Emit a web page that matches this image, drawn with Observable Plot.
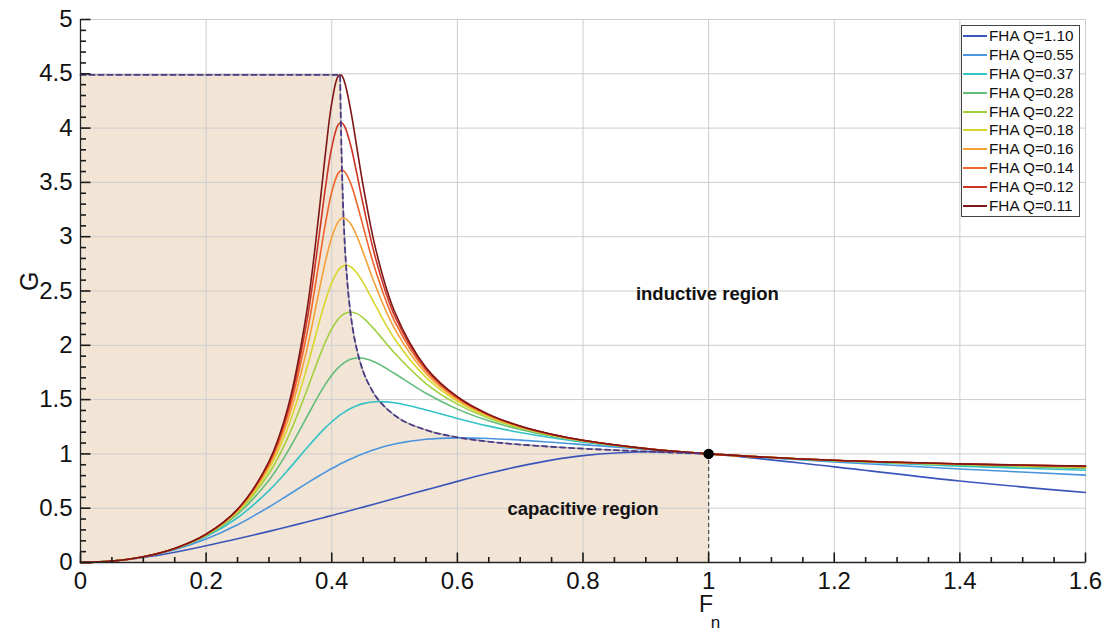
<!DOCTYPE html>
<html><head><meta charset="utf-8">
<script src="https://cdn.jsdelivr.net/npm/d3@7"></script>
<script src="https://cdn.jsdelivr.net/npm/@observablehq/plot@0.6"></script>
<style>
body{margin:0;background:#fff;}
#wrap{position:relative;width:1108px;height:634px;font-family:"Liberation Sans",Arial,sans-serif;}
#legend{position:absolute;left:961px;top:25px;width:119px;height:192px;border:1px solid #444;background:#fff;box-sizing:border-box;padding-top:1px}
.row{height:18.8px;display:flex;align-items:center;font-size:15.3px;white-space:nowrap;color:#111}
.sw{width:24px;height:0;border-top:2px solid;margin:0 2px 0 1px}
</style></head><body><div id="wrap"></div>
<script>
// Normalized frequency samples (Fn)
const fn = [0, 0.05, 0.1, 0.15, 0.2, 0.25, 0.3, 0.33, 0.36, 0.38, 0.39, 0.40, 0.41, 0.415, 0.42, 0.43, 0.44, 0.45, 0.47, 0.5, 0.55, 0.6, 0.65, 0.7, 0.75, 0.8, 0.9, 1.0, 1.2, 1.4, 1.6];
const qLabels = ["FHA Q=1.10","FHA Q=0.55","FHA Q=0.37","FHA Q=0.28","FHA Q=0.22","FHA Q=0.18","FHA Q=0.16","FHA Q=0.14","FHA Q=0.12","FHA Q=0.11"];
const colors = ["#3b55bb","#4a95dd","#34c2c6","#62bd7a","#a2cf3e","#d8d62a","#f6a038","#f0652b","#cc3526","#7e1616"];
const gQ110 = [0,0.0122,0.0460,0.0951,0.1537,0.2181,0.2866,0.3292,0.3729,0.4026,0.4177,0.4328,0.4480,0.4557,0.4634,0.4788,0.4943,0.5100,0.5414,0.5890,0.6687,0.7470,0.8211,0.8876,0.9429,0.9840,1.0194,1,0.8809,0.7507,0.6443];
const gQ055 = [0,0.0126,0.0511,0.1179,0.2161,0.3481,0.5111,0.6189,0.7281,0.7986,0.8325,0.8650,0.8961,0.9110,0.9254,0.9531,0.9787,1.0024,1.0437,1.0907,1.1346,1.1475,1.1420,1.1268,1.1070,1.0853,1.0415,1,0.9258,0.8614,0.8042];
const gQ037 = [0,0.0126,0.0522,0.1242,0.2388,0.4120,0.6620,0.8496,1.0519,1.1819,1.2416,1.2960,1.3440,1.3654,1.3849,1.4183,1.4442,1.4628,1.4805,1.4704,1.4050,1.3265,1.2558,1.1966,1.1480,1.1078,1.0458,1,0.9349,0.8878,0.8493];
const gQ028 = [0,0.0127,0.0526,0.1267,0.2486,0.4444,0.7579,1.0225,1.3364,1.5475,1.6425,1.7251,1.7919,1.8185,1.8406,1.8707,1.8835,1.8811,1.8424,1.7404,1.5580,1.4123,1.3044,1.2243,1.1634,1.1160,1.0473,1,0.9382,0.8976,0.8669];
const gQ022 = [0,0.0127,0.0528,0.1279,0.2536,0.4622,0.8192,1.1486,1.5798,1.8911,2.0329,2.1520,2.2396,2.2700,2.2912,2.3069,2.2915,2.2525,2.1330,1.9284,1.6480,1.4581,1.3290,1.2378,1.1708,1.1198,1.0480,1,0.9397,0.9023,0.8755];
const gQ018 = [0,0.0127,0.0529,0.1285,0.2564,0.4728,0.8593,1.2401,1.7838,2.2109,2.4105,2.5760,2.6873,2.7194,2.7356,2.7240,2.6653,2.5765,2.3625,2.0601,1.7040,1.4849,1.3429,1.2453,1.1748,1.1219,1.0484,1,0.9405,0.9049,0.8803];
const gQ016 = [0,0.0127,0.0530,0.1289,0.2581,0.4796,0.8866,1.3072,1.9531,2.5044,2.7746,2.9960,3.1347,3.1662,3.1728,3.1199,3.0041,2.8554,2.5428,2.1539,1.7406,1.5018,1.3515,1.2499,1.1773,1.1232,1.0486,1,0.9410,0.9064,0.8832];
const gQ014 = [0,0.0127,0.0531,0.1292,0.2593,0.4842,0.9058,1.3571,2.0929,2.7731,3.1220,3.4120,3.5817,3.6103,3.6018,3.4936,3.3083,3.0939,2.6846,2.2220,1.7657,1.5130,1.3572,1.2529,1.1789,1.1240,1.0487,1,0.9413,0.9074,0.8851];
const gQ012 = [0,0.0127,0.0531,0.1294,0.2601,0.4874,0.9197,1.3948,2.2080,3.0166,3.4544,3.8235,4.0288,4.0512,4.0219,3.8438,3.5795,3.2967,2.7967,2.2727,1.7835,1.5209,1.3611,1.2550,1.1800,1.1246,1.0488,1,0.9416,0.9081,0.8864];
const gQ011 = [0,0.0127,0.0531,0.1295,0.2607,0.4897,0.9300,1.4238,2.3032,3.2362,3.7690,4.2296,4.4757,4.4883,4.4319,4.1710,3.8205,3.4692,2.8861,2.3111,1.7966,1.5266,1.3639,1.2565,1.1808,1.1250,1.0489,1,0.9417,0.9086,0.8873];
// Capacitive / inductive boundary (peak-gain locus, capped at max gain)
const boundaryFn = [0, 0.4133, 0.4135, 0.414, 0.415, 0.417, 0.42, 0.425, 0.43, 0.435, 0.44, 0.45, 0.46, 0.47, 0.48, 0.5, 0.55, 0.6, 0.65, 0.7, 0.8, 0.9, 0.95, 1];
const boundaryG  = [4.49, 4.49, 4.43, 4.235, 3.92, 3.47, 3.02, 2.57, 2.29, 2.10, 1.96, 1.76, 1.63, 1.53, 1.46, 1.356, 1.22, 1.153, 1.113, 1.086, 1.049, 1.022, 1.010, 1];
const resFn = [1], resG = [1];
const xTicks = [0, 0.2, 0.4, 0.6, 0.8, 1, 1.2, 1.4, 1.6];
const yTicks = [0, 0.5, 1, 1.5, 2, 2.5, 3, 3.5, 4, 4.5, 5];
const annotations = [{fn: 0.998, g: 2.47, text: "inductive region"}, {fn: 0.800, g: 0.495, text: "capacitive region"}];

const series = [gQ110,gQ055,gQ037,gQ028,gQ022,gQ018,gQ016,gQ014,gQ012,gQ011];
const rows = series.flatMap((s, i) => fn.map((x, j) => ({fn: x, g: s[j], q: qLabels[i]})));
const boundary = boundaryFn.map((x, i) => ({fn: x, g: boundaryG[i]}));
const xMinor = d3.range(0, 1.6001, 0.05).filter(v => !xTicks.some(t => Math.abs(t - v) < 1e-6));
const yMinor = d3.range(0, 5.0001, 0.1).filter(v => !yTicks.some(t => Math.abs(t - v) < 1e-6));
const font = "Liberation Sans, Arial, sans-serif";
const W = 1108, H = 634, mL = 80, mR = 23, mT = 19, mB = 72;
const xDom = [0, 1.6], yDom = [0, 5];
// pixel tick lengths expressed in data units via the frame size
const pxX = (W - mL - mR) / (xDom[1] - xDom[0]), pxY = (H - mT - mB) / (yDom[1] - yDom[0]);
const tk = {stroke: "#1a1a1a", strokeWidth: 1.6, strokeOpacity: 1};

const chart = Plot.plot({
  width: W, height: H,
  marginLeft: mL, marginRight: mR, marginTop: mT, marginBottom: mB,
  style: {fontFamily: font, background: "#fff", overflow: "visible"},
  x: {domain: xDom},
  y: {domain: yDom},
  color: {domain: qLabels, range: colors},
  marks: [
    Plot.areaY(boundary, {x: "fn", y: "g", fill: "#f2e5d5", curve: "monotone-x"}),
    Plot.gridX(xTicks, {stroke: "#cdcdcd", strokeOpacity: 1, strokeWidth: 1}),
    Plot.gridY(yTicks, {stroke: "#cdcdcd", strokeOpacity: 1, strokeWidth: 1}),
    Plot.line(boundary, {x: "fn", y: "g", stroke: "#a8a8a8", strokeWidth: 1.4, curve: "monotone-x"}),
    Plot.line(rows, {x: "fn", y: "g", z: "q", stroke: "q", strokeWidth: 1.6, curve: "catmull-rom"}),
    Plot.line(boundary, {x: "fn", y: "g", stroke: "#4d3a86", strokeWidth: 1.8, strokeDasharray: "5,4", curve: "monotone-x"}),
    Plot.ruleX(resFn, {x: d => d, y1: 0, y2: (d, i) => resG[i], stroke: "#555", strokeWidth: 1.3, strokeDasharray: "4,3"}),
    Plot.dot(resFn, {x: d => d, y: (d, i) => resG[i], r: 4.5, fill: "#000", stroke: "#000"}),
    Plot.ruleX([0], {stroke: "#262626", strokeWidth: 1.3}),
    Plot.ruleY([0], {stroke: "#262626", strokeWidth: 1.3}),
    Plot.link(xTicks, {x1: d => d, x2: d => d, y1: yDom[0], y2: yDom[0] + 10 / pxY, ...tk}),
    Plot.link(xMinor, {x1: d => d, x2: d => d, y1: yDom[0], y2: yDom[0] + 5.5 / pxY, ...tk}),
    Plot.link(yTicks, {y1: d => d, y2: d => d, x1: xDom[0], x2: xDom[0] + 10 / pxX, ...tk}),
    Plot.link(yMinor, {y1: d => d, y2: d => d, x1: xDom[0], x2: xDom[0] + 5.5 / pxX, ...tk}),
    Plot.axisX(xTicks, {tickSize: 0, tickPadding: 9, fontSize: 24, tickFormat: d => `${d}`, label: null, fill: "#111"}),
    Plot.axisY(yTicks, {tickSize: 0, tickPadding: 8, fontSize: 24, tickFormat: d => `${d}`, label: null, fill: "#111"}),
    Plot.text(annotations, {x: "fn", y: "g", text: "text", fontSize: 18.5, fontWeight: "bold", fill: "#111"}),
    Plot.text(["G"], {frameAnchor: "left", dx: -51, rotate: -90, fontSize: 25, fill: "#111"}),
    Plot.text(resFn, {x: d => d - 0.004, frameAnchor: "bottom", text: () => "F", dy: 49, fontSize: 23, fill: "#111"}),
    Plot.text(resFn, {x: d => d + 0.011, frameAnchor: "bottom", text: () => "n", dy: 65, fontSize: 17, fill: "#111"})
  ]
});
const wrap = document.getElementById("wrap");
wrap.appendChild(chart);
const legend = document.createElement("div");
legend.id = "legend";
qLabels.forEach((q, i) => {
  const r = document.createElement("div");
  r.className = "row";
  r.innerHTML = `<span class="sw" style="border-color:${colors[i]}"></span><span>${q}</span>`;
  legend.appendChild(r);
});
wrap.appendChild(legend);
</script></body></html>
